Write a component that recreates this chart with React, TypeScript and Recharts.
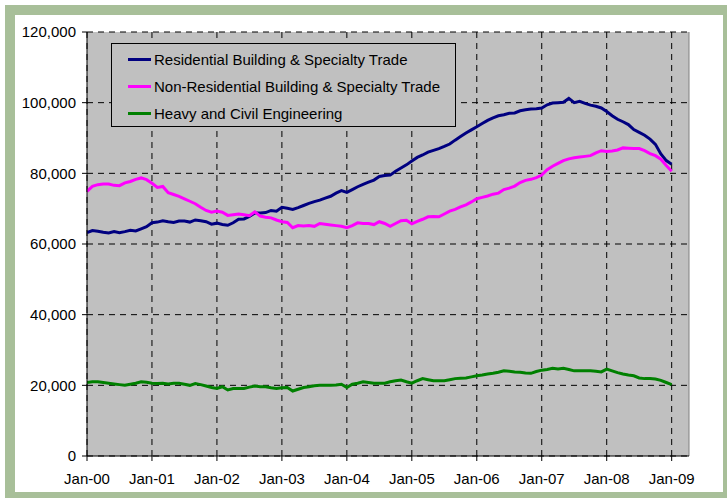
import React from 'react';
import { LineChart, Line, XAxis, YAxis, CartesianGrid, Legend, ReferenceLine } from 'recharts';

const residential = [
  63200, 63800, 63600, 63300, 63100, 63500, 63200, 63500, 63900, 63700, 64300, 64900,
  66000, 66200, 66600, 66300, 66100, 66500, 66500, 66200, 66800, 66600, 66300, 65600,
  65900, 65500, 65300, 66000, 67000, 67100, 67800, 68800, 68800, 68900, 69500, 69300,
  70400, 70100, 69800, 70300, 70900, 71500, 72000, 72400, 73000, 73500, 74400, 75100,
  74600, 75400, 76200, 76900, 77500, 78100, 79100, 79400, 79500, 80600, 81500, 82400,
  83500, 84500, 85200, 86000, 86500, 87000, 87600, 88300, 89400, 90400, 91400, 92300,
  93200, 94100, 95000, 95700, 96300, 96600, 97000, 97100, 97700, 98000, 98200, 98300,
  98500, 99400, 99900, 100000, 100100, 101200, 100000, 100400, 99800, 99300, 99000, 98500,
  97500, 96300, 95300, 94600, 93800, 92400, 91600, 90800, 89700, 88200, 85500, 83600,
  82600,
];

const nonResidential = [
  74900, 76300, 76800, 77000, 77000, 76600, 76500, 77300, 77700, 78300, 78700, 78200,
  77200, 76000, 76300, 74500, 74000, 73500, 72800, 72100, 71400, 70400, 69500, 69000,
  69300, 69000, 68100, 68300, 68500, 68300, 68000, 69100, 67900, 67600, 67400, 66800,
  66300, 66100, 64600, 65200, 65100, 65200, 65000, 65800, 65600, 65400, 65200, 65000,
  64600, 65200, 66000, 65800, 65800, 65500, 66300, 65800, 65000, 65800, 66600, 66700,
  65700, 66400, 67000, 67700, 67800, 67700, 68500, 69300, 69800, 70500, 71100, 71900,
  72800, 73200, 73600, 74100, 74400, 75400, 75800, 76400, 77400, 78000, 78300, 78800,
  79500, 81000, 82000, 82800, 83600, 84100, 84400, 84600, 84800, 85000, 85800, 86400,
  86200, 86300, 86600, 87200, 87100, 87000, 87000, 86400, 85600, 85000, 84000, 82200,
  80600,
];

const heavyCivil = [
  20800, 21000, 21000, 20800, 20600, 20400, 20200, 20000, 20300, 20600, 21000, 20900,
  20600, 20500, 20600, 20400, 20600, 20600, 20300, 20000, 20500, 20200, 19800, 19400,
  19100, 19600, 18700, 19100, 19100, 19100, 19500, 19800, 19600, 19600, 19300, 19100,
  19300, 19400, 18400, 18900, 19400, 19600, 19900, 20000, 20000, 20000, 20100, 20300,
  19400, 20300, 20600, 21000, 20800, 20600, 20600, 20600, 21000, 21300, 21500, 21000,
  20600, 21300, 21900, 21600, 21300, 21300, 21300, 21600, 21900, 22000, 22100, 22400,
  22700, 22900, 23200, 23400, 23700, 24100, 24000, 23800, 23700, 23500, 23400, 23900,
  24300, 24500, 24800, 24600, 24800, 24500, 24100, 24100, 24100, 24100, 24000, 23800,
  24600, 24100, 23600, 23200, 22900, 22700, 22100, 21900, 21900, 21800, 21400, 20800,
  20200,
];

const seriesNames = [
  'Residential Building & Specialty Trade',
  'Non-Residential Building & Specialty Trade',
  'Heavy and Civil Engineering',
];
const seriesColors = ['#000080', '#ff00ff', '#008000'];

const xTickMonths = [0, 12, 24, 36, 48, 60, 72, 84, 96, 108];
const xTickLabels = ['Jan-00', 'Jan-01', 'Jan-02', 'Jan-03', 'Jan-04', 'Jan-05', 'Jan-06', 'Jan-07', 'Jan-08', 'Jan-09'];
const yTicks = [0, 20000, 40000, 60000, 80000, 100000, 120000];
const X_MAX = 111.2;

const data = residential.map((r, i) => ({
  m: i,
  res: r,
  nonres: nonResidential[i],
  heavy: heavyCivil[i],
}));

const FONT = 'Arial, "Liberation Sans", sans-serif';

const renderLegend = (props: any) => {
  const items = [...(props.payload || [])].sort(
    (a: any, b: any) => seriesNames.indexOf(a.value) - seriesNames.indexOf(b.value)
  );
  return (
    <div
      style={{
        width: 343,
        height: 82,
        border: '1px solid #000',
        background: '#c0c0c0',
        position: 'relative',
        fontFamily: FONT,
        fontSize: 15,
      }}
    >
      {items.map((p: any, i: number) => (
        <div
          key={i}
          style={{
            position: 'absolute',
            left: 16,
            top: 15 + i * 27 - 9,
            height: 18,
            display: 'flex',
            alignItems: 'center',
          }}
        >
          <div style={{ width: 23, height: 3, background: p.color }} />
          <span style={{ marginLeft: 3, color: '#000', whiteSpace: 'nowrap' }}>{p.value}</span>
        </div>
      ))}
    </div>
  );
};

export default function App() {
  return (
    <div
      style={{
        position: 'absolute',
        left: 0,
        top: 0,
        width: 727,
        height: 498,
        overflow: 'hidden',
        background: '#fff',
      }}
    >
      <div
        style={{
          position: 'absolute',
          left: 5,
          top: 5,
          width: 708,
          height: 477,
          border: '10px solid #a8bf99',
          background: '#fff',
        }}
      />
      <div style={{ position: 'absolute', left: 0, top: 0 }}>
        <LineChart
          width={727}
          height={498}
          data={data}
          margin={{ top: 32, right: 38, left: 7, bottom: 12 }}
          style={{ fontFamily: FONT }}
        >
          <CartesianGrid
            fill="#c0c0c0"
            stroke="#000"
            strokeDasharray="6 5"
            horizontalValues={yTicks}
            verticalValues={xTickMonths}
          />
          <XAxis
            dataKey="m"
            type="number"
            domain={[0, X_MAX]}
            ticks={xTickMonths}
            tickFormatter={(v: number) => xTickLabels[xTickMonths.indexOf(v)] ?? ''}
            allowDataOverflow
            height={30}
            tickSize={5}
            tickMargin={12}
            axisLine={{ stroke: '#000' }}
            tickLine={{ stroke: '#000' }}
            tick={{ fill: '#000', fontSize: 15, fontFamily: FONT }}
            interval={0}
          />
          <YAxis
            type="number"
            domain={[0, 120000]}
            ticks={yTicks}
            width={80}
            tickSize={5}
            tickMargin={6}
            axisLine={{ stroke: '#000' }}
            tickLine={{ stroke: '#000' }}
            tick={{ fill: '#000', fontSize: 15, fontFamily: FONT }}
            tickFormatter={(v: number) => v.toLocaleString('en-US')}
            interval={0}
          />
          <ReferenceLine x={X_MAX} stroke="#808080" strokeWidth={1} />
          <Legend
            layout="vertical"
            align="center"
            verticalAlign="middle"
            content={renderLegend}
            wrapperStyle={{ left: 111, top: 43, width: 345, height: 84 }}
          />
          <Line
            dataKey="res"
            name={seriesNames[0]}
            stroke={seriesColors[0]}
            strokeWidth={3}
            dot={false}
            type="linear"
            isAnimationActive={false}
          />
          <Line
            dataKey="nonres"
            name={seriesNames[1]}
            stroke={seriesColors[1]}
            strokeWidth={3}
            dot={false}
            type="linear"
            isAnimationActive={false}
          />
          <Line
            dataKey="heavy"
            name={seriesNames[2]}
            stroke={seriesColors[2]}
            strokeWidth={3}
            dot={false}
            type="linear"
            isAnimationActive={false}
          />
        </LineChart>
      </div>
    </div>
  );
}
